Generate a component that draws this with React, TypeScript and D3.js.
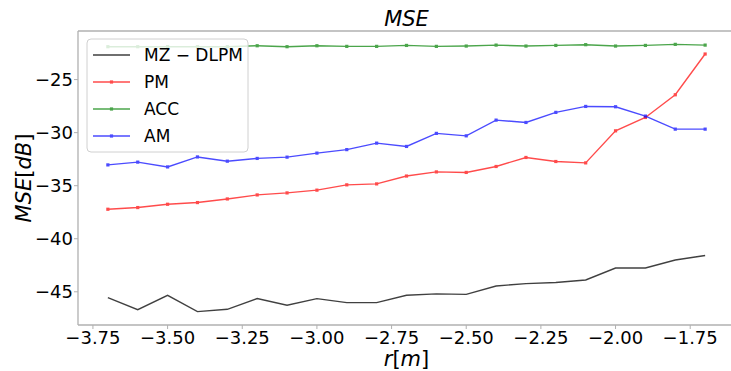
import React from "react";
import * as d3 from "d3";

const rValues = [-3.7, -3.6, -3.5, -3.4, -3.3, -3.2, -3.1, -3.0, -2.9, -2.8, -2.7, -2.6, -2.5, -2.4, -2.3, -2.2, -2.1, -2.0, -1.9, -1.8, -1.7];
const mzdlpm = [-45.55, -46.68, -45.33, -46.87, -46.65, -45.64, -46.27, -45.64, -46.02, -46.02, -45.33, -45.2, -45.24, -44.45, -44.23, -44.13, -43.89, -42.76, -42.76, -42.0, -41.58];
const pm = [-37.22, -37.06, -36.75, -36.59, -36.25, -35.87, -35.68, -35.42, -34.92, -34.83, -34.09, -33.7, -33.75, -33.19, -32.34, -32.72, -32.85, -29.83, -28.57, -26.43, -22.59];
const acc = [-21.9, -21.9, -21.9, -21.9, -21.9, -21.81, -21.9, -21.81, -21.87, -21.87, -21.78, -21.87, -21.84, -21.75, -21.84, -21.78, -21.71, -21.84, -21.78, -21.68, -21.75];
const am = [-33.04, -32.78, -33.23, -32.29, -32.69, -32.43, -32.31, -31.93, -31.6, -30.99, -31.3, -30.07, -30.3, -28.82, -29.04, -28.09, -27.53, -27.56, -28.44, -29.67, -29.67];
const xTicks = [-3.75, -3.5, -3.25, -3.0, -2.75, -2.5, -2.25, -2.0, -1.75];
const yTicks = [-45, -40, -35, -30, -25];
const seriesNames = ["MZ \u2212 DLPM", "PM", "ACC", "AM"];
const seriesColors = ["#000000", "#ff0000", "#008000", "#0000ff"];
const seriesMarkers = [false, true, true, true];
const seriesData = [mzdlpm, pm, acc, am];

const FONT = "DejaVu Sans, sans-serif";

export default function App() {
  const W = 731, H = 371;
  const left = 78, right = 735, top = 31, bottom = 325;
  const all = seriesData.flat();
  const yMin = d3.min(all)!, yMax = d3.max(all)!;
  const yPad = (yMax - yMin) * 0.05;
  const xMin = d3.min(rValues)!, xMax = d3.max(rValues)!;
  const xPad = (xMax - xMin) * 0.05;
  const x = d3.scaleLinear().domain([xMin - xPad, xMax + xPad]).range([left, right]);
  const y = d3.scaleLinear().domain([yMin - yPad, yMax + yPad]).range([bottom, top]);
  const line = d3.line<number>().x((_, i) => x(rValues[i])).y((d) => y(d));
  const fmt = (v: number, p: number) => (v < 0 ? "\u2212" : "") + Math.abs(v).toFixed(p);
  const spine = "#b0b0b0";

  return (
    <svg width={W} height={H} style={{ position: "absolute", left: 0, top: 0, background: "#fff" }} fontFamily={FONT}>
      <rect x={0} y={0} width={W} height={H} fill="#fff" />
      {/* series */}
      {seriesData.map((s, k) => (
        <g key={k} opacity={k === 0 ? 0.75 : 0.7}>
          <path d={line(s) || ""} fill="none" stroke={seriesColors[k]} strokeWidth={1.4} />
          {seriesMarkers[k] &&
            s.map((v, i) => (
              <rect key={i} x={x(rValues[i]) - 1.6} y={y(v) - 1.6} width={3.2} height={3.2} fill={seriesColors[k]} />
            ))}
        </g>
      ))}
      {/* spines */}
      <line x1={left} x2={left} y1={top} y2={bottom} stroke={spine} strokeWidth={1.3} />
      <line x1={left} x2={right} y1={bottom} y2={bottom} stroke={spine} strokeWidth={1.3} />
      <line x1={left} x2={right} y1={top} y2={top} stroke={spine} strokeWidth={1.3} />
      {/* x ticks */}
      {xTicks.map((t) => (
        <g key={t}>
          <line x1={x(t)} x2={x(t)} y1={bottom} y2={bottom + 4} stroke={spine} strokeWidth={1} />
          <text x={x(t)} y={bottom + 19} textAnchor="middle" fontSize={18} fill="#000">
            {fmt(t, 2)}
          </text>
        </g>
      ))}
      {/* y ticks */}
      {yTicks.map((t) => (
        <g key={t}>
          <line x1={left - 4} x2={left} y1={y(t)} y2={y(t)} stroke={spine} strokeWidth={1} />
          <text x={left - 5} y={y(t) + 6.5} textAnchor="end" fontSize={18} fill="#000">
            {fmt(t, 0)}
          </text>
        </g>
      ))}
      {/* title */}
      <text x={(left + right) / 2} y={26} textAnchor="middle" fontSize={21} fontStyle="italic" fill="#000">
        MSE
      </text>
      {/* x label */}
      <text x={(left + right) / 2} y={366} textAnchor="middle" fontSize={21} fill="#000">
        <tspan fontStyle="italic">r</tspan>
        <tspan>[</tspan>
        <tspan fontStyle="italic">m</tspan>
        <tspan>]</tspan>
      </text>
      {/* y label */}
      <text transform={`translate(31,${(top + bottom) / 2}) rotate(-90)`} textAnchor="middle" fontSize={21} fill="#000">
        <tspan fontStyle="italic">MSE</tspan>
        <tspan>[</tspan>
        <tspan fontStyle="italic">dB</tspan>
        <tspan>]</tspan>
      </text>
      {/* legend */}
      <rect x={87} y={39} width={161} height={113} rx={4} fill="#fff" fillOpacity={0.8} stroke="#d0d0d0" strokeWidth={1} />
      {seriesNames.map((n, k) => {
        const cy = 55 + k * 27;
        return (
          <g key={n}>
            <g opacity={k === 0 ? 0.75 : 0.7}>
              <line x1={93} x2={130} y1={cy} y2={cy} stroke={seriesColors[k]} strokeWidth={1.4} />
              {seriesMarkers[k] && <rect x={111.5 - 1.6} y={cy - 1.6} width={3.2} height={3.2} fill={seriesColors[k]} />}
            </g>
            <text x={144} y={cy + 6} fontSize={17} fill="#000">
              {n}
            </text>
          </g>
        );
      })}
    </svg>
  );
}
